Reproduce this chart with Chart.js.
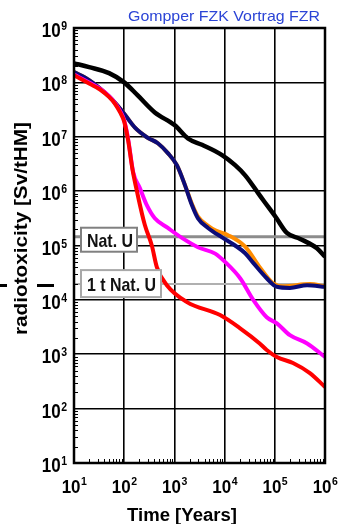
<!DOCTYPE html>
<html>
<head>
<meta charset="utf-8">
<title>Radiotoxicity</title>
<script src="https://cdn.jsdelivr.net/npm/chart.js@4.4.1/dist/chart.umd.min.js"></script>
<style>
  body { margin: 0; background: #fff; }
</style>
</head>
<body>
<canvas id="myChart" width="339" height="524"></canvas>
<script>
// values (years, Sv/tHM)
const blackYears = [10, 20, 50, 100, 186, 407, 1020, 1860, 3550, 8900, 1.62e4, 2.57e4, 4.7e4, 5.9e4, 1.05e5, 1.74e5, 3.2e5, 6.9e5, 1e6];
const blackTox = [2.24e8, 1.91e8, 1.48e8, 1.0e8, 5.75e7, 2.8e7, 1.62e7, 9.3e6, 7.1e6, 4.6e6, 3.0e6, 1.95e6, 9.1e5, 6.8e5, 3.3e5, 1.7e5, 1.32e5, 8.9e4, 6.2e4];

const orangeYears = [10, 20, 50, 66, 100, 166, 282, 468, 741, 1120, 1620, 2240, 2950, 4680, 6500, 1.17e4, 2.57e4, 5.0e4, 9.1e4, 1.45e5, 5.0e5, 1e6];
const orangeTox = [1.55e8, 1.1e8, 5.5e7, 4.2e7, 2.65e7, 1.45e7, 9.8e6, 7.6e6, 5.0e6, 3.0e6, 1.3e6, 5.8e5, 3.4e5, 2.3e5, 1.9e5, 1.55e5, 9.5e4, 4.0e4, 2.04e4, 1.78e4, 1.95e4, 1.78e4];

const navyYears = [10, 20, 50, 66, 100, 166, 282, 468, 741, 1120, 1620, 2240, 2950, 4680, 8900, 1.62e4, 2.57e4, 3.72e4, 6.9e4, 1.1e5, 2.0e5, 4.4e5, 1e6];
const navyTox = [1.55e8, 1.1e8, 5.5e7, 4.2e7, 2.65e7, 1.45e7, 9.8e6, 7.6e6, 5.0e6, 3.0e6, 1.29e6, 5.5e5, 3.16e5, 2.1e5, 1.41e5, 1.0e5, 7.2e4, 4.8e4, 2.5e4, 1.74e4, 1.66e4, 1.86e4, 1.74e4];

const magentaYears = [10, 20, 33, 50, 66, 83, 100, 120, 151, 204, 282, 407, 741, 1410, 2950, 6500, 1.02e4, 2.04e4, 3.72e4, 6.9e4, 1.1e5, 2.0e5, 4.4e5, 1e6];
const magentaTox = [1.4e8, 9.9e7, 7.7e7, 5.6e7, 4.15e7, 2.95e7, 2.0e7, 9.0e6, 2.24e6, 1.15e6, 5.5e5, 3.16e5, 2.1e5, 1.38e5, 9.3e4, 7.1e4, 5.0e4, 2.5e4, 1.0e4, 4.8e3, 3.7e3, 2.24e3, 1.58e3, 890];

const redYears = [10, 20, 33, 50, 66, 83, 100, 120, 145, 186, 257, 355, 447, 708, 1780, 8130, 2.04e4, 5.0e4, 6.9e4, 1.1e5, 2.3e5, 5.0e5, 1e6];
const redTox = [1.35e8, 9.5e7, 7.4e7, 5.4e7, 4.0e7, 2.8e7, 1.9e7, 8.5e6, 2.63e6, 8.5e5, 2.4e5, 1.0e5, 4.0e4, 1.86e4, 9.1e3, 5.25e3, 3.0e3, 1.58e3, 1.2e3, 890, 690, 450, 250];

const natU = 1.45e5;
const oneTonNatU = 1.95e4;
const refLabels = ['Nat. U', '1 t Nat. U'];

const xDecades = [1, 2, 3, 4, 5, 6];
const yDecades = [1, 2, 3, 4, 5, 6, 7, 8, 9];

function pts(xs, ys) {
  return xs.map((x, i) => ({x: x, y: ys[i]}));
}

function curve(data, color, w) {
  return {data: data, borderColor: color, borderWidth: w, pointRadius: 0, fill: false,
          cubicInterpolationMode: 'monotone'};
}

// text helper: draws text stretched to a given width / vertical factor
function stretchText(ctx, s, x, y, font, width, sy, align) {
  ctx.save();
  ctx.font = font;
  const w = ctx.measureText(s).width;
  const sx = width ? width / w : 1;
  ctx.translate(x, y);
  ctx.scale(sx, sy);
  ctx.textAlign = align || 'left';
  ctx.textBaseline = 'alphabetic';
  ctx.fillText(s, 0, 0);
  ctx.restore();
}

const FONT = '"Liberation Sans", Arial, Helvetica, sans-serif';

const decor = {
  id: 'decor',
  afterDatasetsDraw(chart) {
    const ctx = chart.ctx;
    const xs = chart.scales.x, ys = chart.scales.y;
    const a = chart.chartArea;

    // minor ticks, inside
    ctx.save();
    ctx.fillStyle = '#000';
    for (let d = 1; d < 9; d++) {
      for (let k = 2; k < 10; k++) {
        const py = Math.round(ys.getPixelForValue(k * Math.pow(10, d)));
        ctx.fillRect(a.left, py, 4, 1);
      }
    }
    for (let d = 1; d < 6; d++) {
      for (let k = 2; k < 10; k++) {
        const px = Math.round(xs.getPixelForValue(k * Math.pow(10, d)));
        ctx.fillRect(px, a.bottom - 4, 1, 4);
      }
    }
    // frame
    ctx.strokeStyle = '#000';
    ctx.lineWidth = 2.5;
    ctx.strokeRect(a.left, a.top, a.right - a.left, a.bottom - a.top);
    ctx.restore();

    // reference labels
    const boxes = [
      {v: natU, text: refLabels[0], top: -9, bottom: 15, right: 137, base: 10, tw: 46, border: '#808080'},
      {v: oneTonNatU, text: refLabels[1], top: -14, bottom: 13, right: 161, base: 7, tw: 69, border: '#a8a8a8'}
    ];
    boxes.forEach(b => {
      const py = ys.getPixelForValue(b.v);
      const l = a.left + 7;
      ctx.save();
      ctx.fillStyle = '#fff';
      ctx.strokeStyle = b.border;
      ctx.lineWidth = 2;
      ctx.fillRect(l, py + b.top, b.right - l, b.bottom - b.top);
      ctx.strokeRect(l, py + b.top, b.right - l, b.bottom - b.top);
      ctx.fillStyle = '#111';
      stretchText(ctx, b.text, l + 6, py + b.base, 'bold 16px ' + FONT, b.tw, 1.2);
      ctx.restore();
    });

    // the two stray dashes left of the axis title
    const dy = Math.round(ys.getPixelForValue(oneTonNatU));
    ctx.save();
    ctx.fillStyle = '#000';
    ctx.fillRect(0, dy, 7, 3);
    ctx.fillRect(37, dy, 17, 3);
    ctx.restore();

    // tick labels 10^n
    ctx.save();
    ctx.fillStyle = '#000';
    yDecades.forEach(e => {
      const py = ys.getPixelForValue(Math.pow(10, e));
      ctx.font = 'bold 10.5px ' + FONT;
      const we = ctx.measureText(String(e)).width;
      const xr = 67;
      stretchText(ctx, String(e), xr - we, py + 2, 'bold 10.5px ' + FONT, 0, 1.15);
      stretchText(ctx, '10', xr - we - 0.5, py + 9, 'bold 17px ' + FONT, 0, 1.15, 'right');
    });
    xDecades.forEach(e => {
      const px = xs.getPixelForValue(Math.pow(10, e));
      ctx.font = 'bold 17px ' + FONT;
      const wb = ctx.measureText('10').width;
      ctx.font = 'bold 10.5px ' + FONT;
      const we = ctx.measureText(String(e)).width;
      const x0 = px - (wb + we) / 2;
      stretchText(ctx, '10', x0, 493, 'bold 17px ' + FONT, 0, 1.1);
      stretchText(ctx, String(e), x0 + wb + 0.5, 485, 'bold 10.5px ' + FONT, 0, 1.1);
    });

    // axis titles
    stretchText(ctx, 'Time [Years]', 182, 521, 'bold 18px ' + FONT, 110, 1.05, 'center');
    ctx.save();
    ctx.translate(27, 228.5);
    ctx.rotate(-Math.PI / 2);
    stretchText(ctx, 'radiotoxicity [Sv/tHM]', 0, 0, 'bold 18px ' + FONT, 213, 1, 'center');
    ctx.restore();

    // header
    ctx.fillStyle = '#2b44d6';
    stretchText(ctx, 'Gompper FZK Vortrag FZR', 320, 21, '15px ' + FONT, 192, 1, 'right');
    ctx.restore();
  }
};

function decadeTicks(scale, decs) {
  scale.ticks = decs.map(e => ({value: Math.pow(10, e), major: true}));
}

const ctx = document.getElementById('myChart').getContext('2d');
const myChart = new Chart(ctx, {
  type: 'line',
  data: {
    datasets: [
      curve(pts(redYears, redTox), '#ff0000', 4),
      curve(pts(magentaYears, magentaTox), '#ff00ff', 4),
      curve(pts(navyYears, navyTox), '#0c0c78', 4),
      curve(pts(orangeYears, orangeTox), '#ff8c00', 4),
      curve(pts(blackYears, blackTox), '#000000', 4.5),
      {data: pts([10, 1e6], [natU, natU]), borderColor: '#8c8c8c', borderWidth: 3, pointRadius: 0},
      {data: pts([10, 1e6], [oneTonNatU, oneTonNatU]), borderColor: '#b0b0b0', borderWidth: 2, pointRadius: 0}
    ]
  },
  options: {
    responsive: false,
    animation: false,
    events: [],
    layout: {padding: {left: 74, right: 14, top: 28, bottom: 61}},
    plugins: {legend: {display: false}, tooltip: {enabled: false}, title: {display: false}},
    scales: {
      x: {
        type: 'logarithmic', min: 10, max: 1e6,
        afterBuildTicks: s => decadeTicks(s, xDecades),
        ticks: {display: false},
        grid: {color: '#000', lineWidth: 1.6, drawTicks: false},
        border: {color: '#000', width: 2}
      },
      y: {
        type: 'logarithmic', min: 10, max: 1e9,
        afterBuildTicks: s => decadeTicks(s, yDecades),
        ticks: {display: false},
        grid: {color: '#000', lineWidth: 1.6, drawTicks: false},
        border: {color: '#000', width: 2}
      }
    }
  },
  plugins: [decor]
});
</script>
</body>
</html>
